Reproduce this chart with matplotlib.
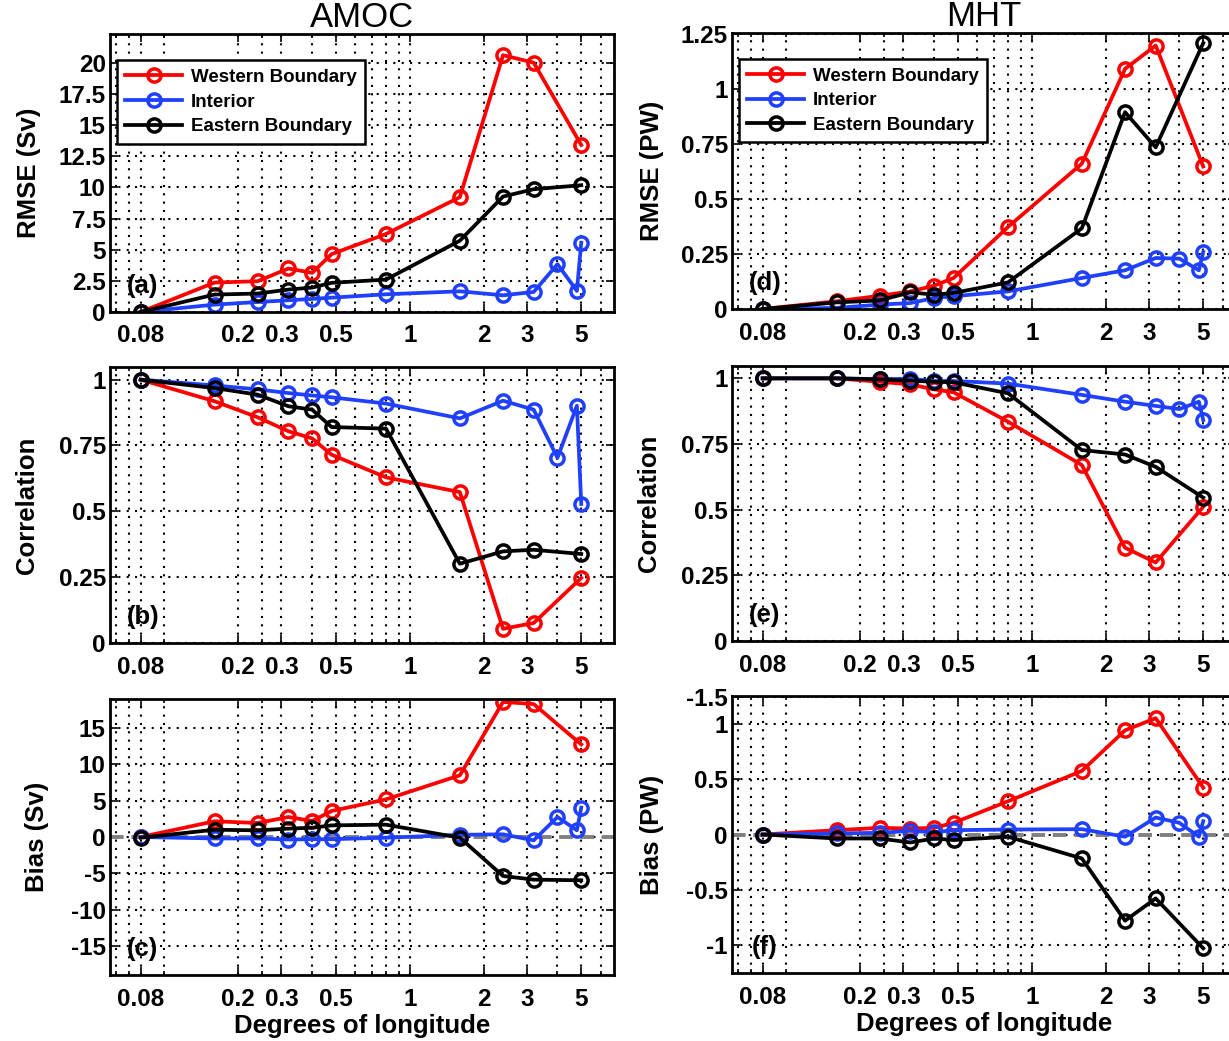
"""Resolution sensitivity of AMOC / MHT error metrics (RMSE, correlation, bias)."""
import matplotlib
matplotlib.use("Agg")
import matplotlib.pyplot as plt
from matplotlib.ticker import FixedLocator, NullFormatter

plt.rcParams["font.family"] = ["Liberation Sans", "DejaVu Sans"]
plt.rcParams["font.weight"] = "bold"

# x positions (degrees of longitude)
x_bnd = [0.08, 0.16, 0.24, 0.32, 0.40, 0.48, 0.80, 1.6, 2.4, 3.2, 5.0]
x_int = [0.08, 0.16, 0.24, 0.32, 0.40, 0.48, 0.80, 1.6, 2.4, 3.2, 4.0, 4.8, 5.0]

# AMOC
amoc_rmse_wb = [0, 2.36, 2.47, 3.49, 3.14, 4.64, 6.26, 9.21, 20.6, 20.0, 13.4]
amoc_rmse_int = [0, 0.59, 0.80, 0.94, 1.05, 1.15, 1.42, 1.66, 1.34, 1.61, 3.84, 1.69, 5.56]
amoc_rmse_eb = [0, 1.40, 1.48, 1.80, 1.96, 2.34, 2.60, 5.72, 9.26, 9.85, 10.17]

amoc_corr_wb = [1, 0.918, 0.857, 0.804, 0.777, 0.715, 0.629, 0.573, 0.054, 0.076, 0.247]
amoc_corr_int = [1, 0.978, 0.963, 0.949, 0.94, 0.933, 0.909, 0.853, 0.92, 0.886, 0.703, 0.901, 0.528]
amoc_corr_eb = [1, 0.968, 0.943, 0.899, 0.886, 0.82, 0.814, 0.301, 0.348, 0.354, 0.338]

amoc_bias_wb = [0, 2.16, 1.93, 2.75, 2.2, 3.58, 5.18, 8.49, 18.6, 18.3, 12.75]
amoc_bias_int = [0, -0.2, -0.2, -0.35, -0.3, -0.3, -0.1, 0.3, 0.37, -0.46, 2.75, 0.92, 4.04]
amoc_bias_eb = [-0.1, 1.0, 0.92, 1.15, 1.28, 1.6, 1.7, -0.1, -5.37, -5.87, -5.96]

# MHT
mht_rmse_wb = [0, 0.035, 0.06, 0.08, 0.106, 0.141, 0.373, 0.661, 1.092, 1.198, 0.648]
mht_rmse_int = [0, 0.005, 0.02, 0.027, 0.05, 0.058, 0.08, 0.141, 0.176, 0.232, 0.229, 0.176, 0.259]
mht_rmse_eb = [0, 0.03, 0.039, 0.076, 0.065, 0.073, 0.121, 0.367, 0.895, 0.735, 1.209]

mht_corr_wb = [1, 1, 0.987, 0.977, 0.958, 0.947, 0.835, 0.67, 0.355, 0.299, 0.511]
mht_corr_int = [1, 1, 0.997, 0.998, 0.99, 0.99, 0.98, 0.937, 0.911, 0.895, 0.883, 0.911, 0.841]
mht_corr_eb = [1, 1, 0.996, 0.991, 0.987, 0.985, 0.943, 0.727, 0.71, 0.663, 0.546]

mht_bias_wb = [0, 0.039, 0.06, 0.054, 0.06, 0.105, 0.3, 0.574, 0.94, 1.05, 0.423]
mht_bias_int = [0, 0.01, 0.015, 0.033, 0.02, 0.039, 0.045, 0.048, -0.02, 0.153, 0.105, -0.02, 0.12]
mht_bias_eb = [0, -0.036, -0.036, -0.072, -0.036, -0.05, -0.02, -0.216, -0.778, -0.577, -1.027]

xtick_vals = [0.08, 0.2, 0.3, 0.5, 1, 2, 3, 5]
xtick_labels = ["0.08", "0.2", "0.3", "0.5", "1", "2", "3", "5"]
xgrid_minor = [0.0635, 0.072, 0.1, 0.25, 0.4, 0.6, 0.7, 0.8, 0.9, 4, 6]

RED = "#ff0000"
BLUE = "#2040ff"
BLACK = "#000000"

W, H = 1229, 1041
fig = plt.figure(figsize=(W / 100, H / 100), dpi=100)


def make_ax(left, top, right, bottom):
    return fig.add_axes([left / W, 1 - bottom / H, (right - left) / W, (bottom - top) / H])


def style(ax, ylim, yticks, ylabels, ylabel, ylabel_x, tag, xlabel=False):
    ax.set_xscale("log")
    ax.set_xlim(0.06, 6.8)
    ax.xaxis.set_major_locator(FixedLocator(xtick_vals))
    ax.set_xticklabels(xtick_labels)
    ax.xaxis.set_minor_locator(FixedLocator(xgrid_minor))
    ax.xaxis.set_minor_formatter(NullFormatter())
    ax.set_ylim(*ylim)
    ax.set_yticks(yticks)
    ax.set_yticklabels(ylabels)
    ax.tick_params(which="both", direction="in", top=True, right=True,
                   labelsize=17.5, width=1.2)
    ax.tick_params(which="major", length=6)
    ax.tick_params(which="minor", length=3)
    ax.tick_params(axis="x", pad=9)
    ax.tick_params(axis="y", pad=3)
    ax.grid(True, which="both", axis="x", color="black", lw=1.5, ls=(0, (1, 3)))
    ax.grid(True, which="major", axis="y", color="black", lw=1.5, ls=(0, (1, 3)))
    ax.set_axisbelow(True)
    for s in ax.spines.values():
        s.set_linewidth(2.0)
    ax.set_ylabel(ylabel, fontsize=18.5, fontweight="bold")
    ax.yaxis.set_label_coords(ylabel_x, 0.5)
    ax.text(0.065, 0.095, tag, transform=ax.transAxes, fontsize=18.5,
            fontweight="bold", ha="center", va="center")
    if xlabel:
        ax.set_xlabel("Degrees of longitude", fontsize=18.5, fontweight="bold")
        ax.xaxis.set_label_coords(0.5, -0.14)


def draw(ax, wb, interior, eb, zero_line=False):
    if zero_line:
        ax.axhline(0, color="#808080", lw=2.8, ls=(0, (3.5, 2)), zorder=1.5)
    kw = dict(lw=2.7, marker="o", ms=9.5, mfc="none", mew=2.5)
    ax.plot(x_bnd, wb, color=RED, label="Western Boundary", **kw)
    ax.plot(x_int, interior, color=BLUE, label="Interior", **kw)
    ax.plot(x_bnd, eb, color=BLACK, label="Eastern Boundary", **kw)


def legend(ax):
    leg = ax.legend(loc="upper left", bbox_to_anchor=(0.014, 0.905), fancybox=False,
                    edgecolor="black", framealpha=1, borderaxespad=0,
                    prop={"size": 13.5, "weight": "bold"}, handlelength=3.0,
                    handletextpad=0.5, labelspacing=0.4, borderpad=0.45)
    leg.get_frame().set_linewidth(1.8)


# left column: AMOC
ax_a = make_ax(110, 34, 614, 312)
draw(ax_a, amoc_rmse_wb, amoc_rmse_int, amoc_rmse_eb)
style(ax_a, (0, 22.3), [0, 2.5, 5, 7.5, 10, 12.5, 15, 17.5, 20],
      ["0", "2.5", "5", "7.5", "10", "12.5", "15", "17.5", "20"],
      "RMSE (Sv)", -0.137, "(a)")
legend(ax_a)
ax_a.set_title("AMOC", fontsize=25, fontweight="normal", pad=0)

ax_b = make_ax(110, 367, 614, 643)
draw(ax_b, amoc_corr_wb, amoc_corr_int, amoc_corr_eb)
style(ax_b, (0, 1.048), [0, 0.25, 0.5, 0.75, 1], ["0", "0.25", "0.5", "0.75", "1"],
      "Correlation", -0.141, "(b)")

ax_c = make_ax(110, 699, 614, 975)
draw(ax_c, amoc_bias_wb, amoc_bias_int, amoc_bias_eb, zero_line=True)
style(ax_c, (-19, 19), [-15, -10, -5, 0, 5, 10, 15],
      ["-15", "-10", "-5", "0", "5", "10", "15"],
      "Bias (Sv)", -0.121, "(c)", xlabel=True)

# right column: MHT (extends past the right edge, as in the source)
ax_d = make_ax(732, 33, 1236, 309)
draw(ax_d, mht_rmse_wb, mht_rmse_int, mht_rmse_eb)
style(ax_d, (0, 1.255), [0, 0.25, 0.5, 0.75, 1, 1.25],
      ["0", "0.25", "0.5", "0.75", "1", "1.25"],
      "RMSE (PW)", -0.135, "(d)")
legend(ax_d)
ax_d.set_title("MHT", fontsize=25, fontweight="normal", pad=0)

ax_e = make_ax(732, 366, 1236, 641)
draw(ax_e, mht_corr_wb, mht_corr_int, mht_corr_eb)
style(ax_e, (0, 1.047), [0, 0.25, 0.5, 0.75, 1], ["0", "0.25", "0.5", "0.75", "1"],
      "Correlation", -0.141, "(e)")

ax_f = make_ax(732, 696, 1236, 973)
draw(ax_f, mht_bias_wb, mht_bias_int, mht_bias_eb, zero_line=True)
style(ax_f, (-1.25, 1.25), [-1, -0.5, 0, 0.5, 1, 1.24],
      ["-1", "-0.5", "0", "0.5", "1", "-1.5"],
      "Bias (PW)", -0.135, "(f)", xlabel=True)

fig.savefig("out.png", dpi=100)
